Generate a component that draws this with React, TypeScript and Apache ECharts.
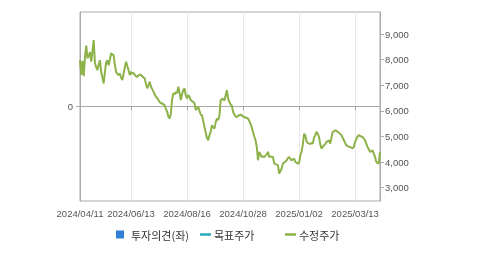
import React, { useEffect, useRef } from "react";
import * as echarts from "echarts";

// KRX market holidays within the charted period
const holidays: string[] = [
  "2024/05/01", "2024/05/06", "2024/05/15", "2024/06/06", "2024/08/15",
  "2024/09/16", "2024/09/17", "2024/09/18", "2024/10/01", "2024/10/03",
  "2024/10/09", "2024/12/25", "2024/12/31", "2025/01/01", "2025/01/27",
  "2025/01/28", "2025/01/29", "2025/01/30", "2025/03/03",
];
const startDate = "2024/04/11";
const endDate = "2025/04/10";

const tickLabels: string[] = [
  "2024/04/11", "2024/06/13", "2024/08/16", "2024/10/28", "2025/01/02", "2025/03/13",
];

const leftTicks: number[] = [0];
const rightTicks: number[] = [3000, 4000, 5000, 6000, 7000, 8000, 9000];

// 수정주가 (adjusted price), one value per trading day
const adjPrice: number[] = [
  7980, 7400, 7950, 7350, 8100, 8550, 8050, 8150, 8300, 7920,
  8300, 8760, 7880, 7700, 7590, 7800, 7980, 7530, 7300, 7070,
  7500, 7900, 7980, 7780, 8000, 8250, 8200, 8180, 7800, 7520,
  7450, 7400, 7460, 7300, 7200, 7450, 7700, 7920, 7750, 7590,
  7400, 7520, 7450, 7480, 7400, 7350, 7330, 7380, 7420, 7400,
  7350, 7300, 7270, 7050, 6880, 7000, 7140, 6950, 6850, 6750,
  6650, 6550, 6500, 6420, 6350, 6290, 6300, 6250, 6220, 6080,
  5960, 5780, 5700, 5900, 6450, 6680, 6650, 6740, 6700, 6940,
  6700, 6420, 6650, 6810, 6880, 6600, 6490, 6620, 6550, 6420,
  6380, 6350, 6290, 6030, 6100, 6160, 6000, 5850, 5830, 5600,
  5370, 5150, 4950, 4850, 5050, 5200, 5440, 5350, 5310, 5550,
  5700, 5640, 5800, 6420, 6450, 6480, 6400, 6600, 6810, 6480,
  6350, 6250, 6200, 5960, 5850, 5780, 5760, 5800, 5830, 5850,
  5820, 5780, 5760, 5740, 5720, 5700, 5600, 5500, 5350, 5180,
  5000, 4850, 4600, 4070, 4400, 4300, 4200, 4220, 4200, 4250,
  4300, 4400, 4200, 4220, 4210, 4200, 3950, 3920, 3900, 3880,
  3550, 3650, 3750, 3940, 3980, 4020, 4070, 4150, 4200, 4130,
  4070, 4100, 4140, 4010, 3980, 3940, 3960, 4270, 4400, 4700,
  5100, 5050, 4800, 4750, 4720, 4700, 4750, 4720, 4950, 5050,
  5180, 5100, 4980, 4700, 4530, 4590, 4650, 4700, 4790, 4820,
  4850, 4720, 4950, 5180, 5200, 5240, 5220, 5180, 5150, 5100,
  5050, 4950, 4850, 4750, 4660, 4620, 4600, 4590, 4560, 4530,
  4600, 4790, 4900, 5000, 5050, 5020, 5000, 4980, 4920, 4850,
  4720, 4590, 4500, 4400, 4420, 4460, 4330, 4200, 4010, 3960,
  3940, 4400,
];
const targetPrice: (number | null)[] = [];
const opinion: (number | null)[] = [];

function fmt(d: Date): string {
  const m = String(d.getMonth() + 1).padStart(2, "0");
  const day = String(d.getDate()).padStart(2, "0");
  return `${d.getFullYear()}/${m}/${day}`;
}

function tradingDays(): string[] {
  const out: string[] = [];
  const [sy, sm, sd] = startDate.split("/").map(Number);
  const d = new Date(sy, sm - 1, sd);
  for (let i = 0; i < 400; i++) {
    const s = fmt(d);
    const wd = d.getDay();
    if (wd !== 0 && wd !== 6 && !holidays.includes(s)) out.push(s);
    if (s === endDate) break;
    d.setDate(d.getDate() + 1);
  }
  return out;
}

export default function App() {
  const ref = useRef<HTMLDivElement>(null);
  useEffect(() => {
    if (!ref.current) return;
    const chart = echarts.init(ref.current, null, { renderer: "svg" });
    const dates = tradingDays();
    const isTick = (_i: number, v: string) => tickLabels.includes(v);
    const numFont = "'Liberation Sans', Arial, sans-serif";
    const krFont = "'Noto Sans CJK KR', 'Noto Sans', sans-serif";
    const axisGrey = "#aaaaaa";
    const gridGrey = "#e8e8e8";
    const legendText = { fontFamily: krFont, fontSize: 11, color: "#333" };
    chart.setOption({
      animation: false,
      grid: {
        left: 80, top: 12, width: 300, height: 189,
        show: true, borderColor: axisGrey, borderWidth: 1,
      },
      legend: [
        {
          data: [{ name: "투자의견(좌)", icon: "rect" }],
          left: 116, top: 229, padding: 0, itemWidth: 8, itemHeight: 8, itemGap: 0,
          textStyle: { ...legendText, padding: [0, 0, 0, 2] },
        },
        {
          data: [{ name: "목표주가", icon: "rect" }],
          left: 200, top: 229, padding: 0, itemWidth: 11, itemHeight: 2.5, itemGap: 0,
          textStyle: { ...legendText, padding: [0, 0, 0, -2] },
        },
        {
          data: [{ name: "수정주가", icon: "rect" }],
          left: 285, top: 229, padding: 0, itemWidth: 11, itemHeight: 2.5, itemGap: 0,
          textStyle: { ...legendText, padding: [0, 0, 0, -2] },
        },
      ],
      xAxis: {
        type: "category",
        data: dates,
        boundaryGap: false,
        axisLine: { lineStyle: { color: axisGrey } },
        axisTick: { show: true, interval: isTick, length: 4, lineStyle: { color: axisGrey } },
        axisLabel: {
          interval: isTick, margin: 7, color: "#555",
          fontFamily: numFont, fontSize: 9.5,
        },
        splitLine: { show: true, interval: isTick, lineStyle: { color: gridGrey } },
      },
      yAxis: [
        {
          type: "value", position: "left", min: -1, max: 1,
          axisLine: { show: true, lineStyle: { color: axisGrey } },
          axisTick: { show: true, length: 4, customValues: leftTicks, lineStyle: { color: axisGrey } },
          axisLabel: {
            margin: 7, color: "#555", fontFamily: numFont, fontSize: 9.5,
            customValues: leftTicks,
          },
          splitLine: { show: true, lineStyle: { color: gridGrey } },
        },
        {
          type: "value", position: "right", min: 2480, max: 9860,
          axisLine: { show: true, lineStyle: { color: axisGrey } },
          axisTick: { show: true, length: 4, customValues: rightTicks, lineStyle: { color: axisGrey } },
          axisLabel: {
            margin: 5, color: "#555", fontFamily: numFont, fontSize: 9.5,
            customValues: rightTicks,
            formatter: (v: number) => v.toLocaleString("en-US"),
          },
          splitLine: { show: false },
        },
      ],
      series: [
        {
          name: "투자의견(좌)", type: "bar", yAxisIndex: 0, data: opinion,
          itemStyle: { color: "#2f7ed8" },
        },
        {
          name: "목표주가", type: "line", yAxisIndex: 1, data: targetPrice,
          showSymbol: false, itemStyle: { color: "#29a8b8" }, lineStyle: { color: "#29a8b8", width: 2 },
        },
        {
          name: "수정주가", type: "line", yAxisIndex: 1, data: adjPrice,
          showSymbol: false, symbol: "none",
          itemStyle: { color: "#8db24a" }, lineStyle: { color: "#8db24a", width: 2 },
        },
      ],
    });
    return () => chart.dispose();
  }, []);
  return (
    <div
      ref={ref}
      style={{ position: "fixed", left: 0, top: 0, width: 479, height: 255 }}
    />
  );
}
